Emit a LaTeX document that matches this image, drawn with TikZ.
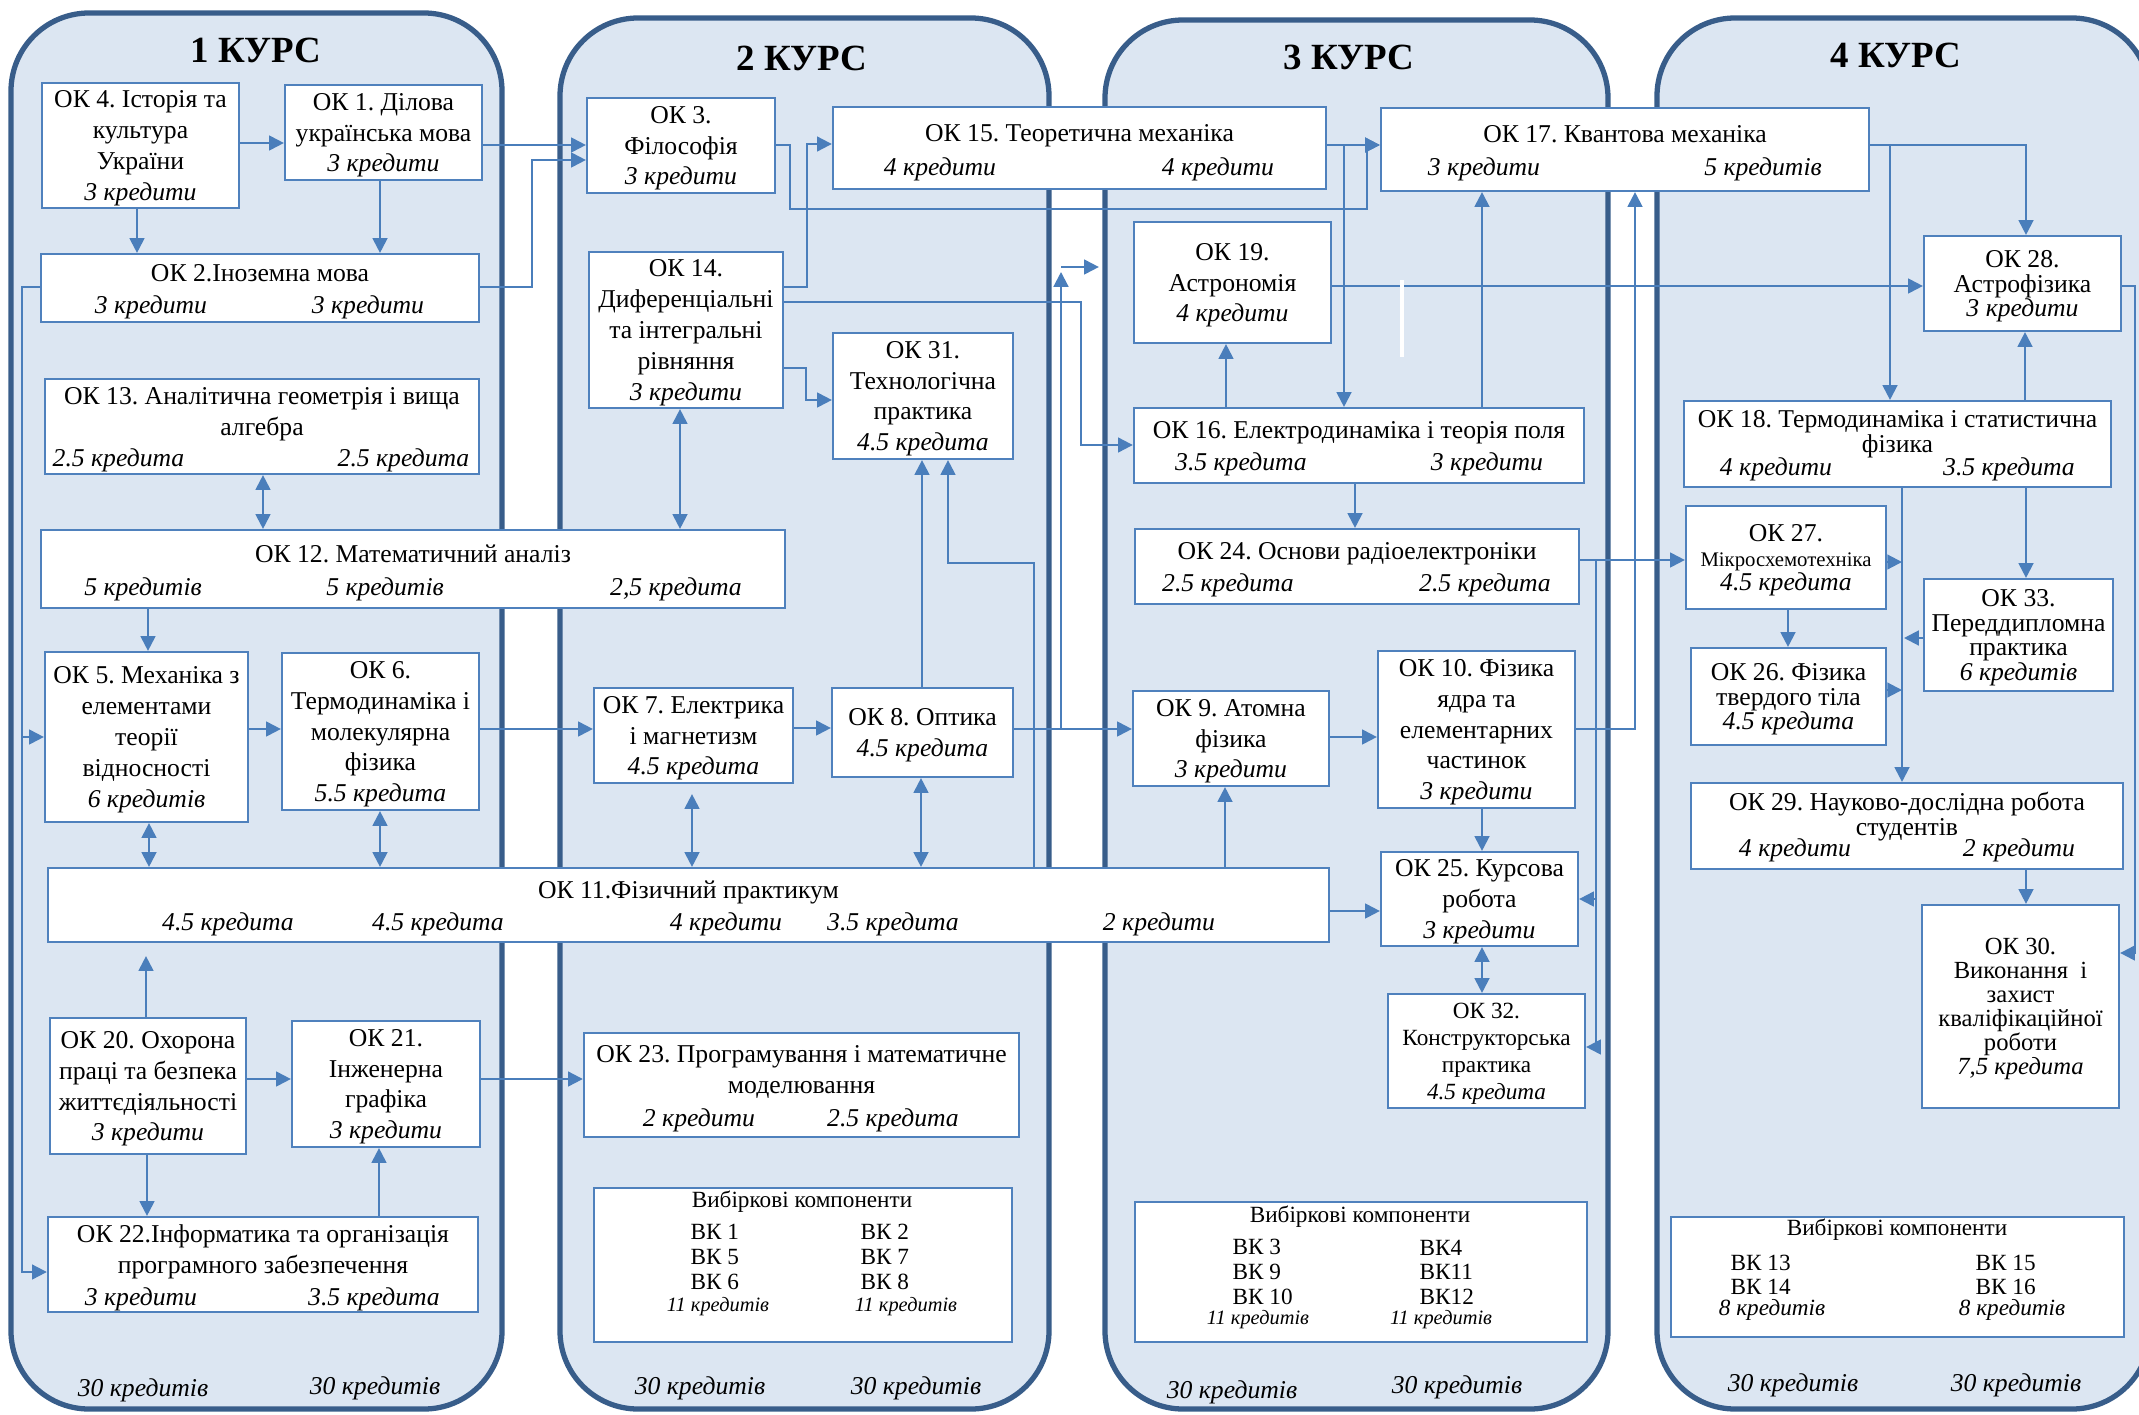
\documentclass[tikz,border=0pt]{standalone}
\usepackage{fontspec}
\setmainfont{Liberation Serif}
\usetikzlibrary{arrows.meta}
\definecolor{kursline}{RGB}{56,93,138}
\definecolor{kursfill}{RGB}{220,230,242}
\definecolor{boxline}{RGB}{79,129,189}
\definecolor{arrline}{RGB}{74,126,187}
\frenchspacing
\newcommand{\okfont}{\fontsize{7.3}{8.8}\selectfont}
\newcommand{\oktight}{\fontsize{7.3}{7}\selectfont\lineskiplimit=-10pt}
\newcommand{\oksmall}{\fontsize{6.6}{7.7}\selectfont}
\newcommand{\okthirty}{\fontsize{7}{6.8}\selectfont\lineskiplimit=-10pt}
\newcommand{\vkfont}{\fontsize{6.6}{7}\selectfont}
\newcommand{\vkcred}{\fontsize{5.8}{7}\selectfont\itshape}
\newcommand{\kursfont}{\fontsize{10.5}{12}\selectfont\bfseries}
\newcommand{\credfont}{\fontsize{7.3}{8.8}\selectfont\itshape}
\tikzstyle{kurs} = [draw=kursline, line width=1.5pt, fill=kursfill, rounded corners=0.78cm]
\tikzstyle{okbox} = [rectangle, draw=boxline, line width=0.6pt, fill=white, inner sep=0pt, align=center, font=\okfont, text depth=-0.7pt]
\tikzstyle{cred} = [inner sep=0pt, font=\credfont]
\tikzstyle{bcred} = [cred, yshift=-0.02cm]
\tikzstyle{kursname} = [inner sep=0pt, font=\kursfont]
\tikzstyle{vkitem} = [inner sep=0pt, align=left, font=\vkfont, anchor=west]
\tikzstyle{arrow} = [draw=arrline, line width=0.6pt, -{Triangle[length=4.2pt,width=4.2pt]}]
\tikzstyle{darrow} = [draw=arrline, line width=0.6pt, {Triangle[length=4.2pt,width=4.2pt]}-{Triangle[length=4.2pt,width=4.2pt]}]
\begin{document}
\begin{tikzpicture}[x=0.01cm, y=-0.01cm]
            \useasboundingbox (0,0) rectangle (2139,1415);
            \draw [kurs] (11,13) rectangle (502,1409);
            \draw [kurs] (560,18) rectangle (1049,1409);
            \draw [kurs] (1105,20) rectangle (1608,1409);
            \draw [kurs] (1657,18) rectangle (2150,1409);

            \node [kursname] (k1) at (256,50) {1 КУРС};
            \node [kursname] (k2) at (802,58) {2 КУРС};
            \node [kursname] (k3) at (1349,57) {3 КУРС};
            \node [kursname] (k4) at (1896,55) {4 КУРС};

            \node [okbox, minimum width=1.97cm, minimum height=1.25cm] (ok4) at (140.5,145.5) {ОК 4. Історія та\\культура\\України\\\textit{3 кредити}};
            \node [okbox, minimum width=1.97cm, minimum height=0.95cm] (ok1) at (383.5,132.5) {ОК 1. Ділова\\українська мова\\\textit{3 кредити}};
            \node [okbox, minimum width=4.38cm, minimum height=0.68cm] (ok2) at (260,288) {ОК 2.Іноземна мова\\\mbox{}};
            \node [okbox, minimum width=4.34cm, minimum height=0.95cm] (ok13) at (262,426.5) {ОК 13. Аналітична геометрія і вища\\алгебра\\\mbox{}};
            \node [okbox, minimum width=7.44cm, minimum height=0.78cm] (ok12) at (413,569) {ОК 12. Математичний аналіз\\\mbox{}};
            \node [okbox, minimum width=2.03cm, minimum height=1.70cm] (ok5) at (146.5,737) {ОК 5. Механіка з\\елементами\\теорії\\відносності\\\textit{6 кредитів}};
            \node [okbox, minimum width=1.97cm, minimum height=1.57cm] (ok6) at (380.5,731.5) {ОК 6.\\Термодинаміка і\\молекулярна\\фізика\\\textit{5.5 кредита}};
            \node [okbox, minimum width=12.81cm, minimum height=0.74cm] (ok11) at (688.5,905) {ОК 11.Фізичний практикум\\\mbox{}};
            \node [okbox, minimum width=1.96cm, minimum height=1.36cm] (ok20) at (148,1086) {ОК 20. Охорона\\праці та безпека\\життєдіяльності\\\textit{3 кредити}};
            \node [okbox, minimum width=1.88cm, minimum height=1.26cm] (ok21) at (386,1084) {ОК 21.\\Інженерна\\графіка\\\textit{3 кредити}};
            \node [okbox, minimum width=4.30cm, minimum height=0.95cm] (ok22) at (263,1264.5) {ОК 22.Інформатика та організація\\програмного забезпечення\\\mbox{}};

            \node [okbox, minimum width=1.88cm, minimum height=0.95cm] (ok3) at (681,145.5) {ОК 3.\\Філософія\\\textit{3 кредити}};
            \node [okbox, minimum width=4.93cm, minimum height=0.82cm] (ok15) at (1079.5,148) {ОК 15. Теоретична механіка\\\mbox{}};
            \node [okbox, minimum width=1.94cm, minimum height=1.56cm] (ok14) at (686,330) {ОК 14.\\Диференціальні\\та інтегральні\\рівняння\\\textit{3 кредити}};
            \node [okbox, minimum width=1.80cm, minimum height=1.26cm] (ok31) at (923,396) {ОК 31.\\Технологічна\\практика\\\textit{4.5 кредита}};
            \node [okbox, minimum width=1.99cm, minimum height=0.95cm] (ok7) at (693.5,735.5) {ОК 7. Електрика\\і магнетизм\\\textit{4.5 кредита}};
            \node [okbox, minimum width=1.81cm, minimum height=0.89cm] (ok8) at (922.5,732.5) {ОК 8. Оптика\\\textit{4.5 кредита}};
            \node [okbox, minimum width=4.35cm, minimum height=1.04cm] (ok23) at (801.5,1085) {ОК 23. Програмування і математичне\\моделювання\\\mbox{}};
            \node [okbox, minimum width=4.18cm, minimum height=1.54cm] (vk2) at (803,1265) {};

            \node [okbox, minimum width=4.88cm, minimum height=0.83cm] (ok17) at (1625,149.5) {ОК 17. Квантова механіка\\\mbox{}};
            \node [okbox, minimum width=1.97cm, minimum height=1.21cm] (ok19) at (1232.5,282.5) {ОК 19.\\Астрономія\\\textit{4 кредити}};
            \node [okbox, minimum width=4.50cm, minimum height=0.75cm] (ok16) at (1359,445.5) {ОК 16. Електродинаміка і теорія поля\\\mbox{}};
            \node [okbox, minimum width=4.44cm, minimum height=0.75cm] (ok24) at (1357,566.5) {ОК 24. Основи радіоелектроніки\\\mbox{}};
            \node [okbox, minimum width=1.96cm, minimum height=0.95cm] (ok9) at (1231,738.5) {ОК 9. Атомна\\фізика\\\textit{3 кредити}};
            \node [okbox, minimum width=1.97cm, minimum height=1.57cm] (ok10) at (1476.5,729.5) {ОК 10. Фізика\\ядра та\\елементарних\\частинок\\\textit{3 кредити}};
            \node [okbox, minimum width=1.97cm, minimum height=0.94cm] (ok25) at (1479.5,899) {ОК 25. Курсова\\робота\\\textit{3 кредити}};
            \node [okbox, font=\oksmall, minimum width=1.97cm, minimum height=1.14cm] (ok32) at (1486.5,1051) {ОК 32.\\Конструкторська\\практика\\\textit{4.5 кредита}};
            \node [okbox, minimum width=4.52cm, minimum height=1.40cm] (vk3) at (1361,1272) {};

            \node [okbox, font=\oktight, minimum width=1.97cm, minimum height=0.95cm] (ok28) at (2022.5,283.5) {ОК 28.\\Астрофізика\\\textit{3 кредити}};
            \node [okbox, font=\oktight, minimum width=4.27cm, minimum height=0.86cm] (ok18) at (1897.5,444) {ОК 18. Термодинаміка і статистична\\фізика\\\mbox{}};
            \node [okbox, font=\oktight, minimum width=2.00cm, minimum height=1.03cm] (ok27) at (1786,557.5) {ОК 27.\\{\fontsize{5.9}{7}\selectfont Мікросхемотехніка}\\\textit{4.5 кредита}};
            \node [okbox, font=\oktight, minimum width=1.89cm, minimum height=1.12cm] (ok33) at (2018.5,635) {ОК 33.\\Переддипломна\\практика\\\textit{6 кредитів}};
            \node [okbox, font=\oktight, minimum width=1.95cm, minimum height=0.97cm] (ok26) at (1788.5,696.5) {ОК 26. Фізика\\твердого тіла\\\textit{4.5 кредита}};
            \node [okbox, font=\oktight, minimum width=4.32cm, minimum height=0.86cm] (ok29) at (1907,826) {ОК 29. Науково-дослідна робота\\студентів\\\mbox{}};
            \node [okbox, font=\okthirty, minimum width=1.97cm, minimum height=2.03cm] (ok30) at (2020.5,1006.5) {ОК 30.\\Виконання\ \ і\\захист\\кваліфікаційної\\роботи\\\textit{7,5 кредита}};
            \node [okbox, minimum width=4.53cm, minimum height=1.20cm] (vk4) at (1897.5,1277) {};

            \node [bcred] (ok2a) at (151,305) {3 кредити};
            \node [bcred] (ok2b) at (368,305) {3 кредити};
            \node [bcred, anchor=west] (ok13a) at (52,458) {2.5 кредита};
            \node [bcred, anchor=east] (ok13b) at (470,458) {2.5 кредита};
            \node [bcred] (ok12a) at (143,587) {5 кредитів};
            \node [bcred] (ok12b) at (385,587) {5 кредитів};
            \node [bcred] (ok12c) at (676,587) {2,5 кредита};
            \node [bcred] (ok11a) at (228,922) {4.5 кредита};
            \node [bcred] (ok11b) at (438,922) {4.5 кредита};
            \node [bcred] (ok11c) at (726,922) {4 кредити};
            \node [bcred] (ok11d) at (893,922) {3.5 кредита};
            \node [bcred] (ok11e) at (1159,922) {2 кредити};
            \node [bcred] (ok22a) at (141,1297) {3 кредити};
            \node [bcred] (ok22b) at (374,1297) {3.5 кредита};
            \node [bcred] (ok15a) at (940,167) {4 кредити};
            \node [bcred] (ok15b) at (1218,167) {4 кредити};
            \node [bcred] (ok23a) at (699,1118) {2 кредити};
            \node [bcred] (ok23b) at (893,1118) {2.5 кредита};
            \node [bcred] (ok17a) at (1484,167) {3 кредити};
            \node [bcred] (ok17b) at (1763,167) {5 кредитів};
            \node [bcred] (ok16a) at (1241,462) {3.5 кредита};
            \node [bcred] (ok16b) at (1487,462) {3 кредити};
            \node [bcred] (ok24a) at (1228,583) {2.5 кредита};
            \node [bcred] (ok24b) at (1485,583) {2.5 кредита};
            \node [bcred] (ok18a) at (1776,467) {4 кредити};
            \node [bcred] (ok18b) at (2009,467) {3.5 кредита};
            \node [bcred] (ok29a) at (1795,848) {4 кредити};
            \node [bcred] (ok29b) at (2019,848) {2 кредити};

            \node [inner sep=0pt, font=\vkfont] (vk2t) at (802,1202) {Вибіркові компоненти};
            \node [vkitem] (vk2l) at (690,1257) {ВК 1\\ВК 5\\ВК 6};
            \node [vkitem] (vk2r) at (860,1257) {ВК 2\\ВК 7\\ВК 8};
            \node [inner sep=0pt, font=\vkcred] (vk2a) at (718,1307) {11 кредитів};
            \node [inner sep=0pt, font=\vkcred] (vk2b) at (906,1307) {11 кредитів};
            \node [inner sep=0pt, font=\vkfont] (vk3t) at (1360,1217) {Вибіркові компоненти};
            \node [vkitem] (vk3l) at (1232,1272) {ВК 3\\ВК 9\\ВК 10};
            \node [vkitem] (vk3r) at (1419,1272) {ВК4\\ВК11\\ВК12};
            \node [inner sep=0pt, font=\vkcred] (vk3a) at (1258,1320) {11 кредитів};
            \node [inner sep=0pt, font=\vkcred] (vk3b) at (1441,1320) {11 кредитів};
            \node [inner sep=0pt, font=\vkfont] (vk4t) at (1897,1230) {Вибіркові компоненти};
            \node [vkitem] (vk4l) at (1730,1275) {ВК 13\\ВК 14};
            \node [vkitem] (vk4r) at (1975,1275) {ВК 15\\ВК 16};
            \node [inner sep=0pt, font=\vkfont\itshape] (vk4a) at (1772,1310) {8 кредитів};
            \node [inner sep=0pt, font=\vkfont\itshape] (vk4b) at (2012,1310) {8 кредитів};

            \node [cred] (s1a) at (143,1390) {30 кредитів};
            \node [cred] (s1b) at (375,1388) {30 кредитів};
            \node [cred] (s2a) at (700,1388) {30 кредитів};
            \node [cred] (s2b) at (916,1388) {30 кредитів};
            \node [cred] (s3a) at (1232,1392) {30 кредитів};
            \node [cred] (s3b) at (1457,1387) {30 кредитів};
            \node [cred] (s4a) at (1793,1385) {30 кредитів};
            \node [cred] (s4b) at (2016,1385) {30 кредитів};

            \draw [arrow] (ok4.east |- 0,143) -- (ok1.west |- 0,143);
            \draw [arrow] (137,0 |- ok4.south) -- (137,0 |- ok2.north);
            \draw [arrow] (380,0 |- ok1.south) -- (380,0 |- ok2.north);
            \draw [arrow] (ok1.east |- 0,145) -- (ok3.west |- 0,145);
            \draw [arrow] (ok2.east |- 0,287) -| (532,160) -- (ok3.west |- 0,160);
            \draw [arrow] (ok2.west |- 0,287) -| (22,737) -- (ok5.west |- 0,737);
            \draw [arrow] (ok2.west |- 0,287) -| (22,1272) -- (ok22.west |- 0,1272);
            \draw [darrow] (263,0 |- ok13.south) -- (263,0 |- ok12.north);
            \draw [arrow] (148,0 |- ok12.south) -- (148,0 |- ok5.north);
            \draw [darrow] (680,0 |- ok14.south) -- (680,0 |- ok12.north);
            \draw [arrow] (ok5.east |- 0,729) -- (ok6.west |- 0,729);
            \draw [darrow] (149,0 |- ok5.south) -- (149,0 |- ok11.north);
            \draw [darrow] (380,0 |- ok6.south) -- (380,0 |- ok11.north);
            \draw [arrow] (ok6.east |- 0,729) -- (ok7.west |- 0,729);
            \draw [arrow, shorten >=0.13cm] (146,0 |- ok20.north) -- (146,0 |- ok11.south);
            \draw [arrow] (ok20.east |- 0,1079) -- (ok21.west |- 0,1079);
            \draw [arrow] (147,0 |- ok20.south) -- (147,0 |- ok22.north);
            \draw [arrow] (379,0 |- ok22.north) -- (379,0 |- ok21.south);
            \draw [arrow] (ok21.east |- 0,1079) -- (ok23.west |- 0,1079);

            \draw [arrow] (ok3.east |- 0,145) -| (790,209) -| (1367,145) -- (ok17.west |- 0,145);
            \draw [arrow] (ok15.east |- 0,145) -- (ok17.west |- 0,145);
            \draw [arrow] (ok15.east |- 0,145) -| (1344,0 |- ok16.north);
            \draw [arrow] (ok14.east |- 0,287) -| (807,144) -- (ok15.west |- 0,144);
            \draw [arrow] (ok14.east |- 0,302) -| (1081,445) -- (ok16.west |- 0,445);
            \draw [arrow] (ok14.east |- 0,368) -| (806,400) -- (ok31.west |- 0,400);
            \draw [arrow] (1034,0 |- ok11.north) |- (948,563) -- (948,0 |- ok31.south);
            \draw [arrow] (922,0 |- ok8.north) -- (922,0 |- ok31.south);
            \draw [arrow] (ok7.east |- 0,728) -- (ok8.west |- 0,728);
            \draw [darrow, shorten <=0.1cm] (692,0 |- ok7.south) -- (692,0 |- ok11.north);
            \draw [darrow] (921,0 |- ok8.south) -- (921,0 |- ok11.north);
            \draw [arrow] (ok8.east |- 0,729) -- (ok9.west |- 0,729);
            \draw [arrow] (ok8.east |- 0,729) -| (1061,272);
            \draw [arrow, shorten >=0.34cm] (1061,267) -- (ok19.west |- 0,267);

            \draw [arrow] (ok19.east |- 0,286) -- (ok28.west |- 0,286);
            \draw [white, line width=1pt] (1402,280) -- (1402,357);
            \draw [arrow] (1226,0 |- ok16.north) -- (1226,0 |- ok19.south);
            \draw [arrow] (1482,0 |- ok16.north) -- (1482,0 |- ok17.south);
            \draw [arrow] (1355,0 |- ok16.south) -- (1355,0 |- ok24.north);
            \draw [arrow] (ok10.east |- 0,729) -| (1635,0 |- ok17.south);
            \draw [arrow] (ok24.east |- 0,560) -- (ok27.west |- 0,560);
            \draw [arrow] (ok24.east |- 0,560) -| (1596,899) -- (ok25.east |- 0,899);
            \draw [arrow] (ok24.east |- 0,560) -| (1596,1047) -- (ok32.east |- 0,1047);
            \draw [arrow] (ok9.east |- 0,737) -- (ok10.west |- 0,737);
            \draw [arrow] (1225,0 |- ok11.north) -- (1225,0 |- ok9.south);
            \draw [arrow] (ok11.east |- 0,911) -- (ok25.west |- 0,911);
            \draw [arrow] (1482,0 |- ok10.south) -- (1482,0 |- ok25.north);
            \draw [darrow] (1482,0 |- ok25.south) -- (1482,0 |- ok32.north);

            \coordinate (j27) at (1902,562);
            \coordinate (j33) at (1904,638);
            \coordinate (j26) at (1902,690);
            \draw [arrow] (ok17.east |- 0,145) -| (2026,0 |- ok28.north);
            \draw [arrow] (ok17.east |- 0,145) -| (1890,0 |- ok18.north);
            \draw [arrow] (2025,0 |- ok18.north) -- (2025,0 |- ok28.south);
            \draw [arrow] (2026,0 |- ok18.south) -- (2026,0 |- ok33.north);
            \draw [arrow] (1902,0 |- ok18.south) -- (1902,0 |- ok29.north);
            \draw [arrow] (ok27.east |- j27) -- (j27);
            \draw [arrow] (ok33.west |- j33) -- (j33);
            \draw [arrow] (ok26.east |- j26) -- (j26);
            \draw [arrow] (1788,0 |- ok27.south) -- (1788,0 |- ok26.north);
            \draw [arrow] (2026,0 |- ok29.south) -- (2026,0 |- ok30.north);
            \draw [arrow] (ok28.east |- 0,286) -| (2135,953) -- (ok30.east |- 0,953);
\end{tikzpicture}
\end{document}
